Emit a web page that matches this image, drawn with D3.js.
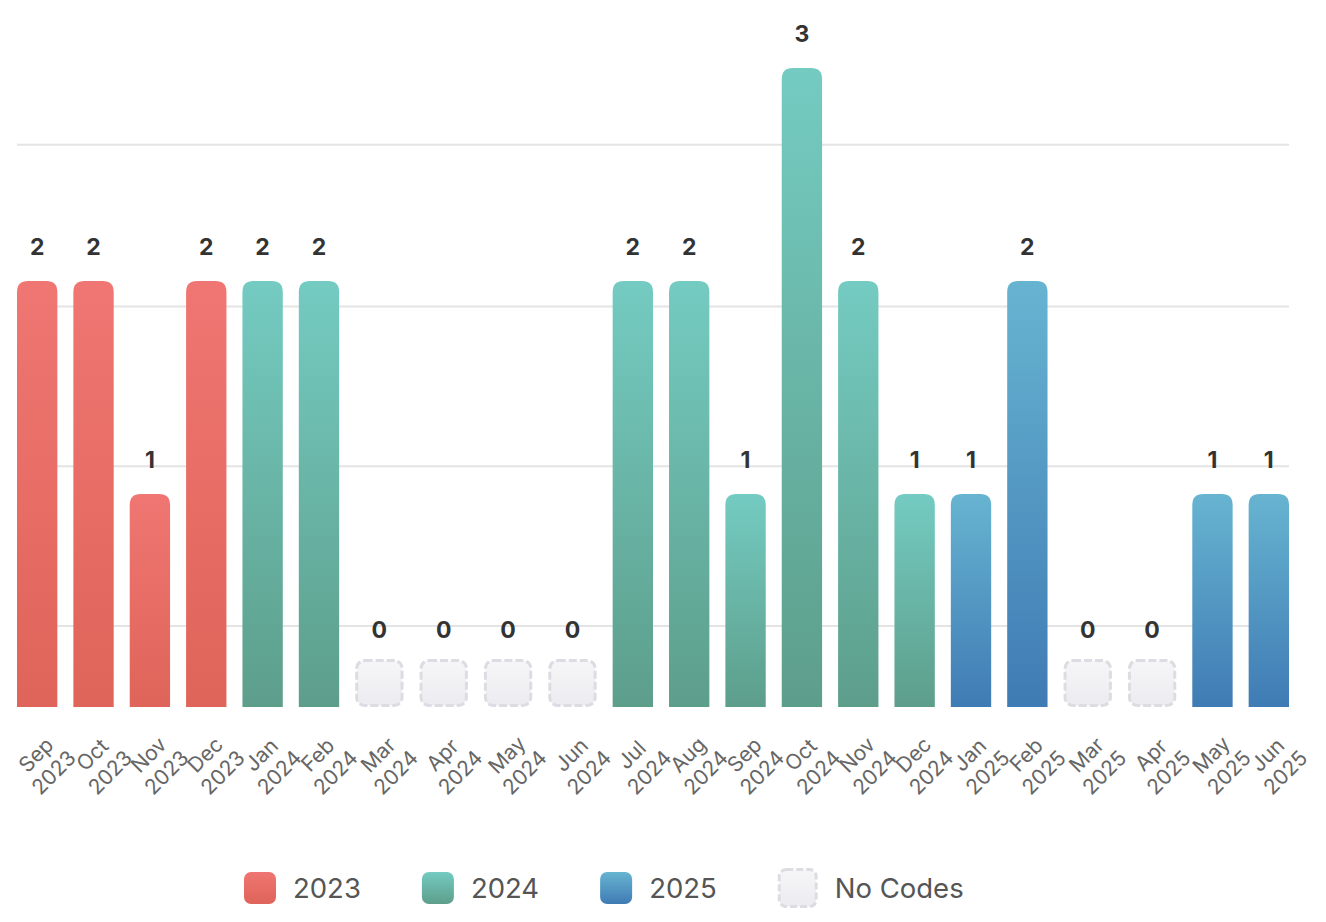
<!DOCTYPE html>
<html><head><meta charset="utf-8">
<script src="https://cdn.jsdelivr.net/npm/d3@7/dist/d3.min.js"></script>
<style>
html,body{margin:0;padding:0;background:#fff;}
svg{display:block;}
text{font-family:Inter,"Liberation Sans",Arial,sans-serif;}
</style></head>
<body>
<svg id="chart" width="1326" height="922"></svg>
<script>
const months = ["Sep","Oct","Nov","Dec","Jan","Feb","Mar","Apr","May","Jun","Jul","Aug","Sep","Oct","Nov","Dec","Jan","Feb","Mar","Apr","May","Jun"];
const years  = ["2023","2023","2023","2023","2024","2024","2024","2024","2024","2024","2024","2024","2024","2024","2024","2024","2025","2025","2025","2025","2025","2025"];
const values = [2,2,1,2,2,2,0,0,0,0,2,2,1,3,2,1,1,2,0,0,1,1];
const gridValues = [0.38, 1.13, 1.88, 2.64];
const legendLabels = ["2023","2024","2025","No Codes"];

const palette = {
  "2023": ["#ef7672","#df6459"],
  "2024": ["#74cbc1","#5d9e8b"],
  "2025": ["#67b4d1","#3f7bb4"],
  "none": ["#f6f6f8","#ececf0"]
};

const svg = d3.select("#chart");
const defs = svg.append("defs");
Object.entries(palette).forEach(([k,[c1,c2]]) => {
  const g = defs.append("linearGradient").attr("id","g"+k).attr("x1",0).attr("y1",0).attr("x2",0).attr("y2",1);
  g.append("stop").attr("offset","0%").attr("stop-color",c1);
  g.append("stop").attr("offset","100%").attr("stop-color",c2);
});

const left = 17, right = 1289, base = 707;
const y = d3.scaleLinear().domain([0,3]).range([base, 68]);

// flex-like layout: bar units, zero boxes are wider (border), gaps between
const barU = 1, zeroU = 48.3/40.3, gapU = 16/40.3;
const widthsU = values.map(v => v === 0 ? zeroU : barU);
const startsU = [];
let acc = 0;
widthsU.forEach((w,i) => { startsU.push(acc); acc += w + (i < widthsU.length-1 ? gapU : 0); });
const x = d3.scaleLinear().domain([0, acc]).range([left, right]);

const data = values.map((v,i) => ({
  v, m: months[i], yr: years[i],
  x0: x(startsU[i]), x1: x(startsU[i] + widthsU[i])
}));

// grid
svg.append("g").selectAll("line").data(gridValues).join("line")
  .attr("x1", left).attr("x2", right)
  .attr("y1", d => y(d)).attr("y2", d => y(d))
  .attr("stroke", "#e4e4e4").attr("stroke-width", 2);

function topRounded(x0, y0, w, h, r) {
  r = Math.min(r, w/2, h);
  return `M${x0},${y0+h}V${y0+r}Q${x0},${y0} ${x0+r},${y0}H${x0+w-r}Q${x0+w},${y0} ${x0+w},${y0+r}V${y0+h}Z`;
}

const bars = svg.append("g");
data.forEach(d => {
  const w = d.x1 - d.x0;
  if (d.v > 0) {
    bars.append("path")
      .attr("d", topRounded(d.x0, y(d.v), w, base - y(d.v), 11))
      .attr("fill", `url(#g${d.yr})`);
  } else {
    const h = 48;
    bars.append("rect")
      .attr("x", d.x0 + 1.5).attr("y", base - h + 1.5)
      .attr("width", w - 3).attr("height", h - 3)
      .attr("rx", 8).attr("ry", 8)
      .attr("fill", "url(#gnone)")
      .attr("stroke", "#dcdde2").attr("stroke-width", 3)
      .attr("stroke-dasharray", "8 3");
  }
});

// value labels
svg.append("g").selectAll("text").data(data).join("text")
  .attr("x", d => (d.x0 + d.x1)/2)
  .attr("y", d => d.v > 0 ? y(d.v) - 26 : base - 48 - 21)
  .attr("text-anchor", "middle")
  .attr("font-size", 23).attr("font-weight", 700).attr("fill", "#333")
  .text(d => d.v);

// axis labels
const ax = svg.append("g");
data.forEach(d => {
  const cx = (d.x0 + d.x1)/2;
  const g = ax.append("g").attr("transform", `translate(${cx + 4},760) rotate(-45)`);
  const t = g.append("text").attr("text-anchor","middle").attr("font-size",21).attr("fill","#666");
  t.append("tspan").attr("x",0).attr("y",0).text(d.m);
  t.append("tspan").attr("x",0).attr("y",25).text(d.yr);
});

// legend
const leg = svg.append("g");
const keys = ["2023","2024","2025","none"];
let lx = 244;
legendLabels.forEach((lab,i) => {
  const k = keys[i];
  if (k === "none") {
    leg.append("rect").attr("x", lx + 1.5).attr("y", 868 + 1.5).attr("width", 37).attr("height", 37)
      .attr("rx", 7).attr("fill", "url(#gnone)").attr("stroke", "#dcdde2")
      .attr("stroke-width", 3).attr("stroke-dasharray", "7 3");
    lx += 40;
  } else {
    leg.append("rect").attr("x", lx).attr("y", 872).attr("width", 32).attr("height", 32)
      .attr("rx", 7).attr("fill", `url(#g${k})`);
    lx += 32;
  }
  lx += 17;
  const t = leg.append("text").attr("x", lx).attr("y", 898)
    .attr("font-size", 27.5).attr("fill", "#555").text(lab);
  lx += t.node().getComputedTextLength() + 61;
});
</script>
</body></html>
